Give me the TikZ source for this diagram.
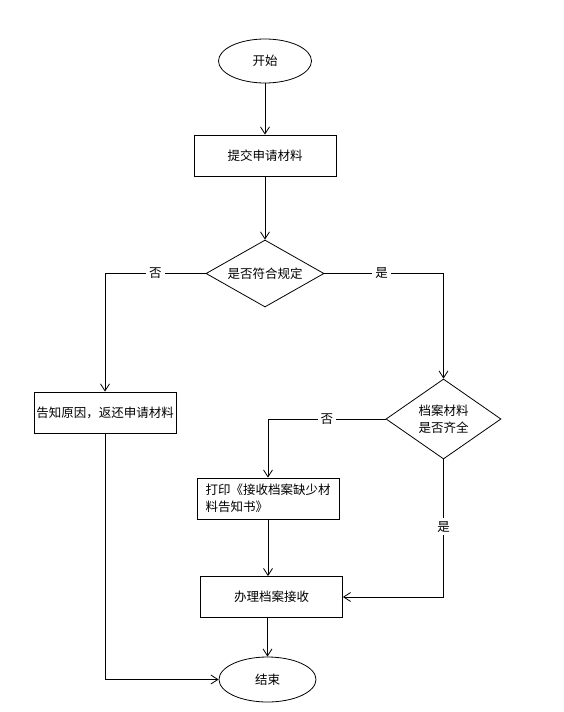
\documentclass[tikz,border=0pt]{standalone}
\usepackage{fontspec}
\newfontfamily\cjk{Noto Sans CJK SC}
\usetikzlibrary{shapes.geometric,arrows.meta}
\begin{document}
\begin{tikzpicture}[x=1pt,y=-1pt,font=\cjk\fontsize{12.5}{17}\selectfont,line width=0.8pt,
	term/.style={draw,ellipse,minimum width=93pt,minimum height=44pt,inner sep=0pt},
	proc/.style={draw,rectangle,minimum width=142pt,minimum height=41pt,inner sep=0pt},
	ask/.style={draw,diamond,inner sep=0pt,align=center},
	lbl/.style={fill=white,inner sep=3pt},
	flow/.style={-{Straight Barb[length=7pt,width=9pt]}}]
\useasboundingbox (0,0) rectangle (564,712);
\path
	(265,61) node (start) [term] {开始}
	(265,155.5) node (submit) [proc] {提交申请材料}
	(265,273.5) node (check) [ask,shape aspect=1.76,minimum width=118pt,minimum height=67pt] {是否符合规定}
	(105,412.5) node (reject) [proc] {告知原因，返还申请材料}
	(443.5,419) node (complete) [ask,shape aspect=1.44,minimum width=115pt,minimum height=80pt] {档案材料\\是否齐全}
	(268,498.5) node (notice) [proc,align=left] {打印《接收档案缺少材\\料告知书》}
	(271.5,597) node (handle) [proc] {办理档案接收}
	(267.5,679.5) node (stop) [term,minimum width=97pt,minimum height=45pt] {结束};
\draw [flow] (start) -- (submit);
\draw [flow] (submit) -- (check);
\draw [flow] (check.west) -| node [pos=0.25,lbl] {否} (reject.north);
\draw [flow] (check.east) -| node [pos=0.24,lbl] {是} (complete.north);
\draw [flow] (complete.west) -| node [pos=0.25,lbl] {否} (notice.north);
\draw [flow] (complete.south) |- node [pos=0.245,lbl] {是} (handle.east);
\draw [flow] (notice.south) -- (notice.south |- handle.north);
\draw [flow] (stop.north |- handle.south) -- (stop);
\draw [flow] (reject.south) |- (stop.west);
\end{tikzpicture}
\end{document}
